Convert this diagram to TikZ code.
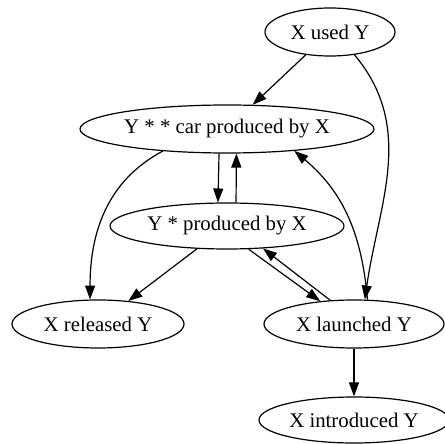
\documentclass[tikz,border=0pt]{standalone}
\usepackage{fontspec}
\setmainfont{Liberation Serif}
\usetikzlibrary{shapes.geometric,arrows.meta}

\newcommand{\relfont}{\fontsize{20.8pt}{24pt}\selectfont}

\tikzset{
  relnode/.style={draw, ellipse, line width=1.2pt, inner sep=0pt, minimum height=48pt, font=\relfont},
  reledge/.style={line width=1.2pt, -{Triangle[length=14pt,width=10pt]}}
}

\begin{document}
\begin{tikzpicture}[x=1pt, y=1pt]
    % Fixed frame of the drawing
    \useasboundingbox (0,0) rectangle (444,444);

    % Relation nodes
    \node[relnode, minimum width=130pt] (used) at (330,412) {X used Y};
    \node[relnode, minimum width=294pt] (car) at (227,315) {Y * * car produced by X};
    \node[relnode, minimum width=234pt, minimum height=46pt] (prod) at (227,218) {Y * produced by X};
    \node[relnode, minimum width=172pt] (released) at (98,120) {X released Y};
    \node[relnode, minimum width=180pt] (launched) at (354,120) {X launched Y};
    \node[relnode, minimum width=190pt, minimum height=46pt] (introduced) at (354,24) {X introduced Y};

    % Edges between relations
    \draw[reledge] (used) -- (car);
    \draw[reledge] (used.317) to[out=-50, in=82] (launched.66);
    \draw[reledge] (car.199) to[out=208, in=90] (released.108);
    \draw[reledge] (car.252) -- (prod.111);
    \draw[reledge] (prod.69) -- (car.291);
    \draw[reledge] (launched.61) to[out=95, in=-40] (car.342);
    \draw[reledge] (prod) -- (released);
    \draw[reledge] (prod.313) -- (launched.146);
    \draw[reledge] (launched.135) -- (prod.328);
    \draw[reledge] (launched) -- (introduced);
\end{tikzpicture}
\end{document}
